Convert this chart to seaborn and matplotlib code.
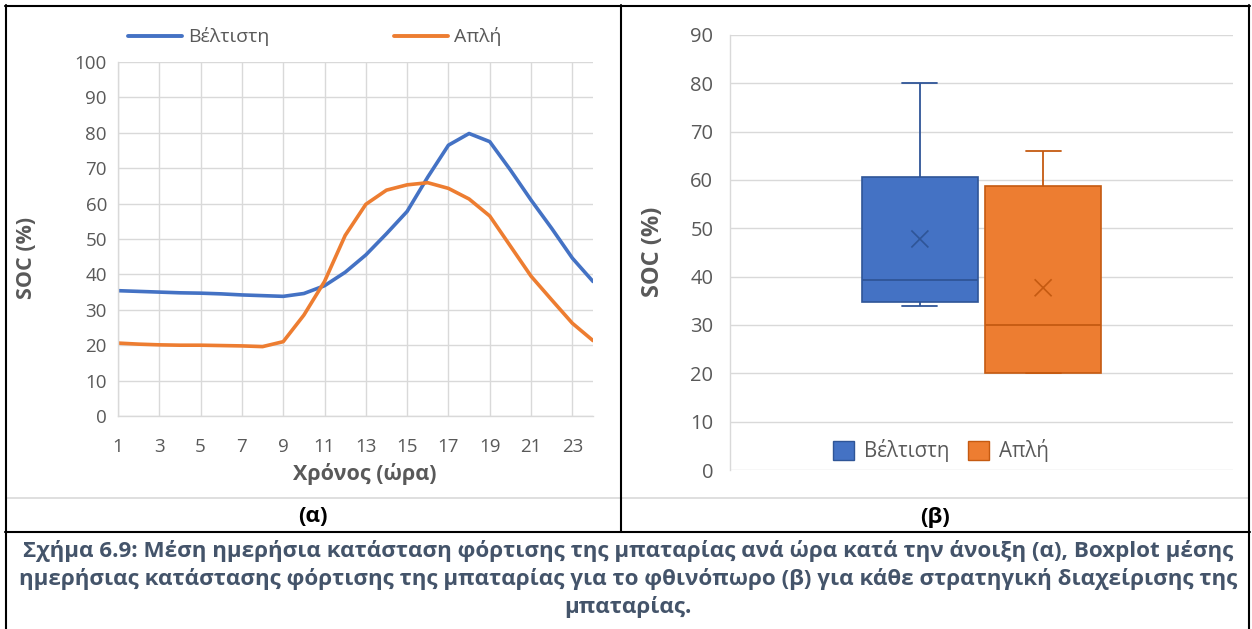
import numpy as np
import pandas as pd
import matplotlib
matplotlib.use('Agg')
import matplotlib.pyplot as plt
from matplotlib.lines import Line2D
from matplotlib.patches import Patch
import seaborn as sns

# ---- data ----
hours = list(range(1, 25))
soc_best = [35.4, 35.2, 35.0, 34.8, 34.7, 34.5, 34.2, 34.0, 33.8, 34.6, 36.8, 40.6,
            45.5, 51.5, 57.8, 67.5, 76.5, 79.8, 77.5, 69.5, 61.0, 53.0, 44.6, 38.0]
soc_simple = [20.6, 20.3, 20.1, 20.0, 20.0, 19.9, 19.8, 19.6, 21.0, 28.5, 38.0, 51.0,
              59.8, 63.8, 65.3, 65.9, 64.3, 61.3, 56.5, 48.0, 39.5, 32.8, 26.2, 21.3]
strategies = ['Βέλτιστη', 'Απλή']
# five-number summary (min, q1, median, q3, max) of the autumn boxplot
box_best = [34.0, 34.8, 39.3, 60.7, 80.0]
box_simple = [20.0, 20.0, 30.0, 58.7, 66.0]
box_means = [47.8, 37.7]

caption = ['Σχήμα 6.9: Μέση ημερήσια κατάσταση φόρτισης της μπαταρίας ανά ώρα κατά την άνοιξη (α), Boxplot μέσης',
           'ημερήσιας κατάστασης φόρτισης της μπαταρίας για το φθινόπωρο (β) για κάθε στρατηγική διαχείρισης της',
           'μπαταρίας.']

# ---- style ----
BLUE, ORANGE = '#4472C4', '#ED7D31'
BLUE_D, ORANGE_D = '#2F5597', '#C55A11'
GRID = '#D9D9D9'
TXT = '#595959'

sns.set_theme(style='white')
plt.rcParams['font.family'] = ['Open Sans', 'Noto Sans', 'DejaVu Sans']
plt.rcParams['axes.unicode_minus'] = False

W, H = 1252, 629
fig = plt.figure(figsize=(W / 100, H / 100), dpi=100)
fig.patch.set_facecolor('white')


def fx(x):
    return x / W


def fy(y):
    return 1 - y / H


# ==========================================
# (α) line chart
# ==========================================
ax1 = fig.add_axes([fx(118), fy(416), fx(593) - fx(118), fy(62) - fy(416)])
df_line = pd.DataFrame({
    'hour': hours * 2,
    'soc': soc_best + soc_simple,
    'strategy': [strategies[0]] * 24 + [strategies[1]] * 24,
})
sns.lineplot(data=df_line, x='hour', y='soc', hue='strategy', hue_order=strategies,
             palette=[BLUE, ORANGE], linewidth=2.6, legend=False, ax=ax1)
for ln in ax1.get_lines():
    ln.set_solid_capstyle('round')
    ln.set_solid_joinstyle('round')

ax1.set_xlim(1, 24)
ax1.set_ylim(0, 100)
ax1.set_xticks(range(1, 24, 2))
ax1.set_yticks(range(0, 101, 10))
ax1.grid(True, color=GRID, linewidth=1.0)
ax1.set_axisbelow(True)
for s in ['top', 'right']:
    ax1.spines[s].set_visible(False)
for s in ['left', 'bottom']:
    ax1.spines[s].set_color(GRID)
    ax1.spines[s].set_linewidth(1.0)
ax1.tick_params(axis='both', length=0, labelsize=13.5, labelcolor=TXT)
ax1.tick_params(axis='x', pad=16)
ax1.tick_params(axis='y', pad=8)
ax1.set_xlabel('Χρόνος (ώρα)', fontsize=15.5, fontweight='bold', color=TXT)
ax1.set_ylabel('SOC (%)', fontsize=15.5, fontweight='bold', color=TXT)
ax1.xaxis.set_label_coords((365 - 118) / 475, (416 - 474) / 354)
ax1.xaxis.label.set_va('center')
ax1.yaxis.set_label_coords((27 - 118) / 475, (416 - 258) / 354)
ax1.yaxis.label.set_va('center')

line_handles = [Line2D([], [], color=BLUE, linewidth=2.8),
                Line2D([], [], color=ORANGE, linewidth=2.8)]
ax1.legend(line_handles, strategies, loc='center left', bbox_to_anchor=(fx(118), fy(37)),
           bbox_transform=fig.transFigure, ncol=2, frameon=False, fontsize=14,
           handlelength=2.8, handletextpad=0.3, columnspacing=6.4, borderpad=0,
           labelcolor=TXT)

# ==========================================
# (β) boxplot
# ==========================================
ax2 = fig.add_axes([fx(730), fy(470), fx(1233) - fx(730), fy(35) - fy(470)])
df_box = pd.DataFrame({
    'season': ['autumn'] * 10,
    'soc': box_best + box_simple,
    'strategy': [strategies[0]] * 5 + [strategies[1]] * 5,
})
sns.boxplot(data=df_box, x='season', y='soc', hue='strategy', hue_order=strategies,
            palette=[BLUE, ORANGE], saturation=1, width=0.49, gap=0.06, linewidth=1.2,
            linecolor=BLUE_D, showfliers=False, legend=False, ax=ax2)

# box centres as drawn by seaborn
boxes = []
for p in ax2.patches:
    ext = p.get_path().get_extents()
    boxes.append(((ext.x0 + ext.x1) / 2, p))
boxes.sort(key=lambda b: b[0])
centers = [b[0] for b in boxes]
edge_cols = [BLUE_D, ORANGE_D]
for (c, p), ec in zip(boxes, edge_cols):
    p.set_edgecolor(ec)

summaries = [box_best, box_simple]
for ln in ax2.get_lines():
    xd = np.asarray(ln.get_xdata(), dtype=float)
    yd = np.asarray(ln.get_ydata(), dtype=float)
    if len(xd) == 0:
        continue
    i = int(np.argmin([abs(xd.mean() - c) for c in centers]))
    ln.set_color(edge_cols[i])
    ln.set_linewidth(1.3)
    # shorten whisker caps
    if len(xd) == 2 and xd[0] != xd[1] and yd[0] == yd[1]:
        summ = summaries[i]
        if yd[0] in (summ[0], summ[4]) and yd[0] != summ[2]:
            half = 0.035
            ln.set_xdata([centers[i] - half, centers[i] + half])

ax2.scatter(centers, box_means, marker='x', s=150, linewidths=1.2,
            color=edge_cols, zorder=5)

ax2.set_xlim(-0.5, 0.5)
ax2.set_ylim(0, 90)
ax2.set_yticks(range(0, 91, 10))
ax2.set_xticks([])
ax2.yaxis.grid(True, color=GRID, linewidth=1.0)
ax2.set_axisbelow(True)
for s in ['top', 'right', 'bottom']:
    ax2.spines[s].set_visible(False)
ax2.spines['left'].set_color(GRID)
ax2.spines['left'].set_linewidth(1.0)
ax2.tick_params(axis='y', length=0, labelsize=14.5, labelcolor=TXT, pad=12)
ax2.set_xlabel('')
ax2.set_ylabel('SOC (%)', fontsize=17, fontweight='bold', color=TXT)
ax2.yaxis.set_label_coords((653 - 730) / 503, (470 - 252) / 435)
ax2.yaxis.label.set_va('center')

box_handles = [Patch(facecolor=BLUE, edgecolor=BLUE_D, linewidth=1.0),
               Patch(facecolor=ORANGE, edgecolor=ORANGE_D, linewidth=1.0)]
ax2.legend(box_handles, strategies, loc='center left', bbox_to_anchor=(fx(823), fy(451)),
           bbox_transform=fig.transFigure, ncol=2, frameon=False, fontsize=14.8,
           handlelength=1.0, handleheight=1.0, handletextpad=0.5, columnspacing=0.9,
           borderpad=0, labelcolor=TXT)

# ==========================================
# table frame, sub-labels and caption
# ==========================================
def hline(y, x0, x1, color='black', lw=1.5):
    fig.add_artist(Line2D([fx(x0), fx(x1)], [fy(y), fy(y)], color=color, linewidth=lw,
                          transform=fig.transFigure))


def vline(x, y0, y1, color='black', lw=1.5):
    fig.add_artist(Line2D([fx(x), fx(x)], [fy(y0), fy(y1)], color=color, linewidth=lw,
                          transform=fig.transFigure))


hline(5.5, 5, 1250)
hline(497.5, 7, 1249, color='#D9D9D9', lw=1.2)
hline(532, 5, 1250)
vline(6, 5, 629)
vline(1249, 5, 629)
vline(621, 5, 532)

renderer = fig.canvas.get_renderer()
probe = fig.text(0, 0, caption[0], fontsize=14, fontweight='bold')
cap_w = probe.get_window_extent(renderer).width
probe.remove()
cap_fs = 14 * 1214 / cap_w

fig.text(fx(313), fy(517), '(α)', ha='center', va='center', fontsize=cap_fs,
         fontweight='bold', color='black')
fig.text(fx(935), fy(517), '(β)', ha='center', va='center', fontsize=cap_fs,
         fontweight='bold', color='black')
for txt, yy in zip(caption, [551, 579, 607]):
    fig.text(fx(628), fy(yy), txt, ha='center', va='center', fontsize=cap_fs,
             fontweight='bold', color='#44546A')

fig.savefig('out.png', dpi=100, facecolor='white')
